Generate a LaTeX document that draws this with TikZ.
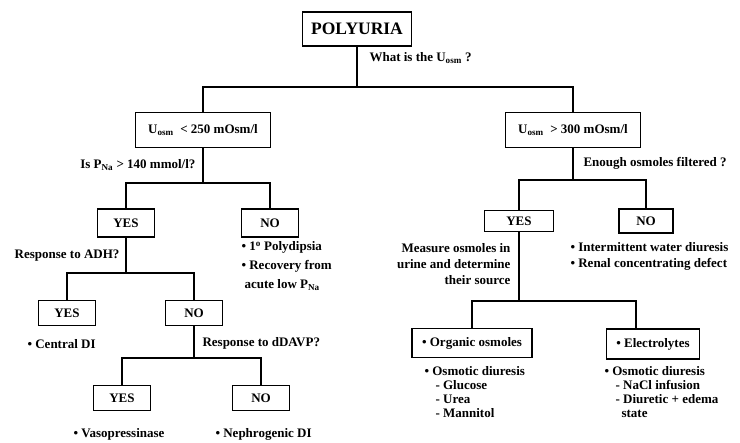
\documentclass[tikz,border=0pt]{standalone}
\usepackage{fontspec}
\setmainfont{Liberation Serif}
\begin{document}
\begin{tikzpicture}[x=1pt, y=-1pt, line width=1.1pt,
  every node/.style={font=\bfseries\fontsize{13}{16}\selectfont, inner sep=1pt},
  box/.style={draw, fill=white, inner sep=2pt, minimum width=57, minimum height=27}]
  \useasboundingbox (0,0) rectangle (740,443);

  % top split
  \node[box, minimum width=109, minimum height=34, font=\bfseries\fontsize{17.5}{20}\selectfont] (poly) at (357,29) {POLYURIA};
  \node[anchor=west] (q1) at (368,58) {What is the U\textsubscript{osm} ?};
  \node[box, minimum width=135, minimum height=35] (low) at (203,130) {U\textsubscript{osm} \ < 250 mOsm/l};
  \node[box, minimum width=135, minimum height=35] (high) at (573,130) {U\textsubscript{osm} \ > 300 mOsm/l};
  \coordinate (s1) at (357,87);
  \draw (poly) -- (s1);
  \draw (low) |- (s1) -| (high);

  % low osmolality
  \node[anchor=east] (q2) at (197,165) {Is P\textsubscript{Na} > 140 mmol/l?};
  \node[box, minimum height=28] (yes1) at (126,223) {YES};
  \node[box, minimum height=28] (no1) at (270,223) {NO};
  \coordinate (s2) at (203,183);
  \draw (low) -- (s2);
  \draw (yes1) |- (s2) -| (no1);
  \node[anchor=north west, align=left, font=\bfseries\fontsize{13}{19}\selectfont] (no1txt) at (240,240)
    {\textbullet\ 1\textsuperscript{o} Polydipsia\\ \textbullet\ Recovery from\\ \hspace*{3pt}acute low P\textsubscript{Na}};

  \node[anchor=east] (q3) at (121,256) {Response to ADH?};
  \node[box, minimum height=25] (yes2) at (67,313) {YES};
  \node[box, minimum height=25] (no2) at (194,313) {NO};
  \coordinate (s3) at (126,273);
  \draw (yes1) -- (s3);
  \draw (yes2) |- (s3) -| (no2);
  \node[anchor=west] (cdi) at (26,344) {\textbullet\ Central DI};

  \node[anchor=west] (q4) at (201,343) {Response to dDAVP?};
  \node[box, minimum height=25] (yes3) at (122,398) {YES};
  \node[box, minimum height=25] (no3) at (261,398) {NO};
  \coordinate (s4) at (194,358);
  \draw (no2) -- (s4);
  \draw (yes3) |- (s4) -| (no3);
  \node[anchor=west] (vaso) at (72,434) {\textbullet\ Vasopressinase};
  \node[anchor=west] (ndi) at (214,434) {\textbullet\ Nephrogenic DI};

  % high osmolality
  \node[anchor=west] (q5) at (582,163) {Enough osmoles filtered ?};
  \node[box, minimum width=69, minimum height=21] (yes4) at (519,221) {YES};
  \node[box, minimum width=54, minimum height=24] (no4) at (646,221) {NO};
  \coordinate (s5) at (573,180);
  \draw (high) -- (s5);
  \draw (yes4) |- (s5) -| (no4);
  \node[anchor=east, align=right] (meas) at (512,264)
    {Measure osmoles in\\ urine and determine\\ their source};
  \node[anchor=west, align=left] (no4txt) at (569,256)
    {\textbullet\ Intermittent water diuresis\\ \textbullet\ Renal concentrating defect};

  \node[box, minimum width=120, minimum height=29] (org) at (472,343) {\textbullet\ Organic osmoles};
  \node[box, minimum width=93, minimum height=30] (elec) at (653,344) {\textbullet\ Electrolytes};
  \coordinate (s6) at (519,301);
  \draw (yes4) -- (s6);
  \draw (org) |- (s6) -| ([xshift=-17pt]elec.north);
  \node[anchor=north west, align=left, font=\bfseries\fontsize{13}{14}\selectfont] (orgtxt) at (423,365)
    {\textbullet\ Osmotic diuresis\\ \hspace*{11pt}- Glucose\\ \hspace*{11pt}- Urea\\ \hspace*{11pt}- Mannitol};
  \node[anchor=north west, align=left, font=\bfseries\fontsize{13}{14}\selectfont] (electxt) at (603,365)
    {\textbullet\ Osmotic diuresis\\ \hspace*{11pt}- NaCl infusion\\ \hspace*{11pt}- Diuretic + edema\\ \hspace*{17pt}state};
\end{tikzpicture}
\end{document}
